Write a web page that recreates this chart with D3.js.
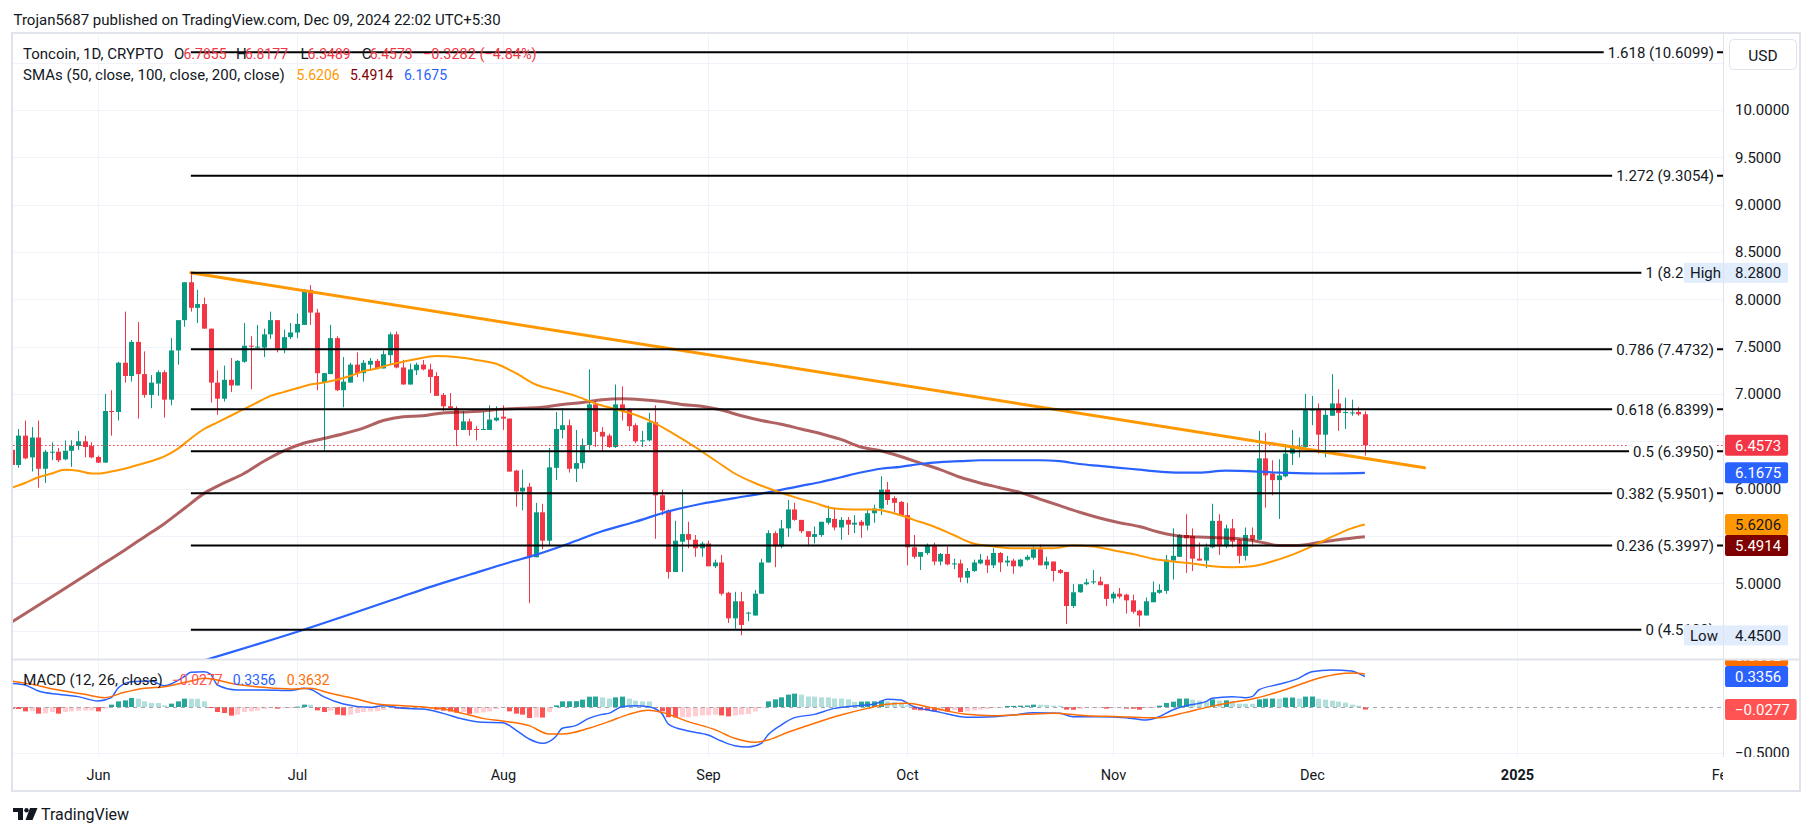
<!DOCTYPE html>
<html><head><meta charset="utf-8"><title>Toncoin 1D</title>
<script src="https://cdn.jsdelivr.net/npm/d3@7/dist/d3.min.js"></script>
<style>html,body{margin:0;padding:0;background:#fff;overflow:hidden}svg{display:block}text{font-family:Roboto,"Noto Sans",sans-serif}</style>
</head><body><svg id="chart" width="1814" height="836"></svg>
<script>
// ---------------- DATA ----------------
const candleStart = "2024-05-19";
const opens = [
6.41,6.25,6.56,6.33,6.54,6.21,6.38,6.39,6.31,6.40,6.45,6.50,6.45,
6.335,6.275,6.82,6.81,7.33,7.19,7.55,7.21,6.99,7.11,7.23,6.94,7.46,7.78,8.18,7.91,7.95,7.69,7.12,6.95,7.15,7.09,7.34,7.51,7.49,7.49,7.63,7.78,7.48,7.60,
7.65,7.73,8.10,7.86,7.12,7.21,7.59,7.04,7.12,7.31,7.22,7.31,7.35,7.27,7.41,7.63,7.28,7.10,7.25,7.31,7.26,7.19,6.99,6.87,6.85,6.62,6.71,6.63,6.62,6.62,6.72,
6.76,6.74,6.19,5.97,6.02,5.275,5.75,5.45,6.22,6.62,6.67,6.21,6.27,6.46,6.89,6.60,6.56,6.44,6.89,6.83,6.67,6.50,6.51,6.70,5.93,5.77,5.12,5.44,5.52,5.46,5.37,
5.42,5.18,5.22,4.90,4.63,4.81,4.68,4.66,4.89,5.22,5.53,5.39,5.58,5.78,5.67,5.55,5.49,5.51,5.64,5.68,5.59,5.67,5.62,5.65,5.61,5.74,5.79,5.99,5.90,5.86,
5.72,5.38,5.28,5.32,5.405,5.23,5.31,5.20,5.21,5.06,5.13,5.21,5.25,5.19,5.32,5.22,5.24,5.18,5.25,5.27,5.36,5.19,5.23,5.14,5.12,4.76,4.905,4.99,5.01,5.02,4.99,
4.84,4.89,4.88,4.82,4.71,4.66,4.80,4.90,4.92,5.24,5.28,5.51,5.50,5.26,5.24,5.38,5.66,5.39,5.58,5.46,5.29,5.51,5.46,6.32,6.16,6.09,6.13,6.37,6.44,6.44,
6.83,6.84,6.57,6.77,6.90,6.80,6.80,6.81,6.7855];
const highs = [
6.58,6.63,6.72,6.65,6.72,6.41,6.49,6.43,6.51,6.51,6.61,6.56,6.49,
6.35,7.00,7.04,7.34,7.87,7.57,7.76,7.45,7.20,7.25,7.25,7.59,7.78,8.18,8.28,8.10,8.02,7.69,7.25,7.30,7.38,7.36,7.75,7.61,7.73,7.69,7.87,7.78,7.68,7.75,
7.85,8.11,8.15,7.90,7.22,7.73,7.61,7.39,7.33,7.44,7.36,7.38,7.37,7.46,7.65,7.66,7.36,7.32,7.33,7.36,7.32,7.23,7.01,7.01,6.87,6.82,6.74,6.66,6.81,6.88,6.87,
6.88,6.74,6.20,6.20,6.06,5.85,5.84,6.43,6.81,6.85,6.73,6.62,6.53,7.26,6.92,6.65,6.58,7.10,7.08,6.85,6.69,6.61,6.80,6.88,5.99,5.78,5.66,5.99,5.65,5.51,5.44,
5.45,5.25,5.30,4.91,4.91,4.91,4.70,4.93,5.26,5.56,5.55,5.67,5.88,5.85,5.67,5.55,5.60,5.65,5.82,5.80,5.70,5.70,5.72,5.67,5.78,5.83,6.13,6.07,5.92,5.87,
5.85,5.51,5.33,5.42,5.43,5.32,5.39,5.26,5.25,5.16,5.25,5.31,5.29,5.37,5.33,5.29,5.26,5.26,5.30,5.39,5.41,5.28,5.23,5.15,5.12,4.99,4.99,5.05,5.14,5.07,4.99,
4.91,4.95,4.89,4.88,4.72,4.85,5.02,4.99,5.30,5.58,5.52,5.73,5.58,5.43,5.42,5.84,5.73,5.62,5.68,5.47,5.59,5.59,6.61,6.59,6.30,6.31,6.47,6.62,6.54,7.00,
6.98,6.90,6.83,7.21,7.05,6.96,6.94,6.86,6.8177];
const lows = [
6.23,6.22,6.31,6.18,6.01,6.06,6.30,6.28,6.30,6.23,6.41,6.33,6.32,
6.27,6.27,6.56,6.72,7.12,7.13,6.74,6.96,6.85,6.98,6.75,6.88,7.31,7.71,7.87,7.75,7.69,6.91,6.78,6.92,7.02,7.09,7.33,7.05,7.48,7.39,7.58,7.44,7.43,7.58,
7.59,7.73,7.73,7.04,6.40,7.21,7.03,6.86,7.12,7.18,7.13,7.25,7.26,7.27,7.32,7.27,7.10,7.10,7.20,7.25,7.01,6.98,6.82,6.83,6.45,6.62,6.56,6.51,6.62,6.62,6.71,
6.62,6.18,5.81,5.77,4.79,5.275,5.36,5.40,6.09,6.53,6.17,6.07,6.21,6.41,6.44,6.39,6.43,6.43,6.72,6.61,6.48,6.44,6.50,5.47,5.72,5.05,5.12,5.12,5.37,5.28,5.28,
5.18,5.16,4.87,4.58,4.52,4.45,4.60,4.66,4.89,5.22,5.17,5.37,5.49,5.66,5.53,5.39,5.42,5.49,5.62,5.56,5.46,5.51,5.53,5.48,5.56,5.64,5.72,5.83,5.75,5.71,
5.19,5.26,5.14,5.30,5.19,5.19,5.19,5.15,5.01,5.00,5.12,5.20,5.11,5.16,5.12,5.18,5.10,5.17,5.24,5.25,5.19,5.15,5.02,5.10,4.57,4.74,4.90,4.98,4.99,4.98,4.76,
4.79,4.84,4.68,4.68,4.54,4.66,4.80,4.89,4.89,5.04,5.28,5.11,5.13,5.24,5.16,5.37,5.30,5.37,5.38,5.21,5.24,5.39,5.46,5.80,5.93,5.68,6.12,6.25,6.33,6.43,
6.67,6.37,6.33,6.77,6.61,6.63,6.77,6.77,6.3489];
const closes = [
6.25,6.56,6.32,6.54,6.21,6.39,6.39,6.30,6.40,6.45,6.50,6.44,6.33,
6.275,6.82,6.81,7.33,7.19,7.55,7.21,6.99,7.12,7.23,6.94,7.46,7.78,8.18,7.91,7.95,7.69,7.12,6.95,7.15,7.09,7.35,7.51,7.50,7.50,7.63,7.78,7.48,7.60,7.65,
7.74,8.10,7.86,7.22,7.22,7.59,7.04,7.13,7.31,7.22,7.33,7.35,7.27,7.42,7.63,7.28,7.10,7.26,7.31,7.26,7.18,6.98,6.87,6.85,6.62,6.71,6.62,6.62,6.63,6.73,6.75,
6.74,6.18,5.97,6.01,5.275,5.75,5.45,6.225,6.63,6.67,6.21,6.27,6.46,6.89,6.60,6.55,6.44,6.89,6.82,6.66,6.50,6.51,6.70,5.93,5.77,5.12,5.45,5.52,5.46,5.37,5.42,
5.18,5.22,4.89,4.63,4.81,4.56,4.69,4.89,5.22,5.53,5.39,5.58,5.78,5.67,5.55,5.49,5.52,5.65,5.69,5.59,5.67,5.62,5.64,5.61,5.74,5.79,5.99,5.88,5.85,5.72,
5.38,5.28,5.33,5.405,5.23,5.31,5.20,5.21,5.06,5.13,5.22,5.25,5.19,5.32,5.22,5.24,5.18,5.25,5.28,5.36,5.19,5.23,5.13,5.11,4.76,4.905,4.99,5.01,5.02,4.98,4.835,
4.89,4.86,4.82,4.70,4.66,4.81,4.905,4.93,5.25,5.29,5.51,5.475,5.26,5.24,5.38,5.66,5.39,5.58,5.44,5.29,5.51,5.46,6.32,6.14,6.09,6.14,6.37,6.44,6.445,6.83,
6.835,6.57,6.78,6.90,6.80,6.81,6.805,6.7855,6.4573];
const macdHist = [
-0.020,-0.022,-0.048,-0.046,-0.073,-0.070,-0.055,-0.073,-0.055,-0.048,-0.041,-0.039,-0.037,
-0.048,-0.018,0.026,0.062,0.073,0.099,0.092,0.062,0.045,0.044,0.018,0.037,0.062,0.092,0.091,0.090,0.062,-0.007,-0.055,-0.066,-0.095,-0.084,-0.055,-0.048,-0.040,-0.022,-0.007,-0.018,-0.011,-0.004,
0.004,0.026,0.025,-0.037,-0.055,-0.040,-0.084,-0.092,-0.084,-0.066,-0.055,-0.049,-0.047,-0.033,-0.004,-0.018,-0.022,-0.018,-0.012,-0.011,-0.013,-0.030,-0.040,-0.050,-0.062,-0.055,-0.075,-0.068,-0.059,-0.048,-0.022,
-0.011,-0.048,-0.073,-0.084,-0.121,-0.114,-0.116,-0.055,0.018,0.062,0.063,0.064,0.081,0.113,0.115,0.106,0.092,0.106,0.114,0.092,0.070,0.062,0.061,-0.011,-0.048,-0.112,-0.115,-0.114,-0.113,-0.103,-0.092,
-0.091,-0.084,-0.092,-0.103,-0.092,-0.084,-0.077,-0.048,-0.004,0.062,0.084,0.106,0.136,0.147,0.136,0.115,0.114,0.106,0.105,0.093,0.092,0.084,0.057,0.059,0.060,0.062,0.070,0.062,0.055,0.040,
0.018,-0.029,-0.037,-0.040,-0.048,-0.046,-0.049,-0.033,-0.055,-0.048,-0.037,-0.029,-0.022,-0.007,-0.003,0.011,0.012,0.015,0.016,0.026,0.025,0.024,0.015,0.014,-0.029,-0.030,-0.022,-0.011,-0.010,-0.009,-0.018,
-0.011,-0.010,-0.018,-0.019,-0.029,-0.011,-0.004,0.015,0.044,0.059,0.092,0.093,0.081,0.070,0.062,0.084,0.070,0.073,0.062,0.037,0.036,0.035,0.084,0.092,0.093,0.092,0.103,0.104,0.092,0.114,
0.115,0.092,0.081,0.070,0.059,0.048,0.026,0.015,-0.0277];

const macdDates = ["2024-05-19","2024-05-21","2024-05-23","2024-05-26","2024-05-29","2024-06-01","2024-06-03","2024-06-04","2024-06-06","2024-06-09","2024-06-11","2024-06-14","2024-06-15","2024-06-17","2024-06-18","2024-06-19","2024-06-22","2024-06-26","2024-06-30","2024-07-02","2024-07-03","2024-07-05","2024-07-08","2024-07-12","2024-07-14","2024-07-17","2024-07-20","2024-07-23","2024-07-26","2024-07-29","2024-08-01","2024-08-03","2024-08-05","2024-08-07","2024-08-09","2024-08-10","2024-08-12","2024-08-14","2024-08-16","2024-08-17","2024-08-19","2024-08-21","2024-08-23","2024-08-25","2024-08-26","2024-08-29","2024-09-01","2024-09-03","2024-09-05","2024-09-07","2024-09-09","2024-09-10","2024-09-12","2024-09-14","2024-09-17","2024-09-20","2024-09-23","2024-09-26","2024-09-28","2024-09-30","2024-10-02","2024-10-03","2024-10-06","2024-10-10","2024-10-14","2024-10-17","2024-10-20","2024-10-24","2024-10-26","2024-10-30","2024-11-03","2024-11-06","2024-11-08","2024-11-10","2024-11-12","2024-11-15","2024-11-16","2024-11-19","2024-11-21","2024-11-22","2024-11-23","2024-11-26","2024-11-29","2024-12-01","2024-12-04","2024-12-07","2024-12-08","2024-12-09"];
const macdValues = [0.260,0.242,0.176,0.139,0.114,0.066,0.103,0.205,0.278,0.286,0.234,0.333,0.381,0.388,0.359,0.242,0.187,0.187,0.180,0.205,0.194,0.114,0.033,-0.004,0.015,-0.015,-0.022,-0.070,-0.132,-0.168,-0.172,-0.253,-0.352,-0.399,-0.326,-0.234,-0.205,-0.125,-0.081,-0.070,0.004,0.015,0.004,-0.070,-0.187,-0.264,-0.308,-0.374,-0.425,-0.440,-0.399,-0.308,-0.198,-0.117,-0.081,-0.015,0.011,0.029,0.084,0.077,0.004,-0.015,-0.059,-0.113,-0.106,-0.088,-0.062,-0.070,-0.106,-0.106,-0.117,-0.143,-0.106,-0.033,0.015,0.059,0.095,0.114,0.103,0.114,0.187,0.249,0.315,0.388,0.407,0.396,0.370,0.3356];
const signalDates = ["2024-05-19","2024-05-22","2024-05-26","2024-05-30","2024-06-02","2024-06-05","2024-06-08","2024-06-11","2024-06-15","2024-06-17","2024-06-19","2024-06-21","2024-06-26","2024-06-30","2024-07-03","2024-07-06","2024-07-10","2024-07-13","2024-07-17","2024-07-21","2024-07-24","2024-07-26","2024-07-29","2024-08-01","2024-08-05","2024-08-08","2024-08-10","2024-08-14","2024-08-17","2024-08-20","2024-08-23","2024-08-25","2024-08-29","2024-09-02","2024-09-05","2024-09-08","2024-09-10","2024-09-13","2024-09-17","2024-09-21","2024-09-25","2024-09-28","2024-10-01","2024-10-04","2024-10-07","2024-10-10","2024-10-14","2024-10-19","2024-10-23","2024-10-28","2024-11-02","2024-11-06","2024-11-08","2024-11-12","2024-11-15","2024-11-19","2024-11-22","2024-11-26","2024-11-29","2024-12-02","2024-12-05","2024-12-07","2024-12-09"];
const signalValues = [0.286,0.249,0.187,0.139,0.103,0.161,0.205,0.223,0.286,0.315,0.297,0.260,0.216,0.198,0.205,0.150,0.088,0.033,0.015,-0.007,-0.033,-0.070,-0.125,-0.154,-0.205,-0.297,-0.297,-0.234,-0.161,-0.081,-0.037,-0.059,-0.161,-0.249,-0.344,-0.388,-0.363,-0.278,-0.179,-0.088,-0.015,0.029,0.040,0.004,-0.044,-0.081,-0.095,-0.081,-0.070,-0.095,-0.106,-0.117,-0.117,-0.059,-0.007,0.051,0.088,0.168,0.242,0.315,0.363,0.374,0.3632];

const sma50Dates = ["2024-05-19","2024-05-21","2024-05-23","2024-05-25","2024-05-27","2024-05-29","2024-05-31","2024-06-01","2024-06-03","2024-06-05","2024-06-07","2024-06-09","2024-06-11","2024-06-13","2024-06-15","2024-06-17","2024-06-19","2024-06-21","2024-06-23","2024-06-25","2024-06-27","2024-06-29","2024-07-01","2024-07-03","2024-07-05","2024-07-07","2024-07-09","2024-07-11","2024-07-13","2024-07-15","2024-07-17","2024-07-19","2024-07-22","2024-07-25","2024-07-28","2024-07-31","2024-08-03","2024-08-06","2024-08-09","2024-08-12","2024-08-15","2024-08-18","2024-08-21","2024-08-24","2024-08-27","2024-08-30","2024-09-02","2024-09-05","2024-09-08","2024-09-11","2024-09-14","2024-09-17","2024-09-20","2024-09-23","2024-09-26","2024-09-29","2024-10-02","2024-10-05","2024-10-08","2024-10-11","2024-10-14","2024-10-17","2024-10-20","2024-10-23","2024-10-26","2024-10-29","2024-11-01","2024-11-04","2024-11-07","2024-11-10","2024-11-13","2024-11-16","2024-11-19","2024-11-22","2024-11-25","2024-11-28","2024-12-01","2024-12-04","2024-12-07","2024-12-09"];
const sma50Values = [6.01,6.06,6.12,6.16,6.20,6.19,6.16,6.16,6.18,6.21,6.25,6.29,6.34,6.42,6.53,6.63,6.70,6.77,6.84,6.91,6.98,7.02,7.06,7.10,7.12,7.15,7.19,7.24,7.27,7.31,7.34,7.37,7.40,7.39,7.36,7.32,7.22,7.10,7.04,6.98,6.90,6.84,6.78,6.69,6.57,6.44,6.30,6.16,6.06,5.98,5.91,5.85,5.79,5.78,5.78,5.74,5.67,5.60,5.51,5.42,5.39,5.37,5.37,5.37,5.40,5.39,5.35,5.31,5.26,5.23,5.21,5.18,5.17,5.18,5.23,5.30,5.39,5.49,5.58,5.6206];
const sma100Dates = ["2024-05-19","2024-05-26","2024-06-01","2024-06-05","2024-06-08","2024-06-11","2024-06-14","2024-06-17","2024-06-20","2024-06-23","2024-06-26","2024-06-29","2024-07-02","2024-07-05","2024-07-08","2024-07-11","2024-07-14","2024-07-17","2024-07-20","2024-07-23","2024-07-26","2024-07-29","2024-08-01","2024-08-04","2024-08-07","2024-08-10","2024-08-13","2024-08-16","2024-08-19","2024-08-22","2024-08-25","2024-08-28","2024-08-31","2024-09-03","2024-09-06","2024-09-09","2024-09-12","2024-09-15","2024-09-18","2024-09-21","2024-09-24","2024-09-27","2024-09-30","2024-10-03","2024-10-06","2024-10-09","2024-10-12","2024-10-15","2024-10-18","2024-10-21","2024-10-24","2024-10-27","2024-10-30","2024-11-02","2024-11-05","2024-11-08","2024-11-11","2024-11-14","2024-11-17","2024-11-20","2024-11-23","2024-11-26","2024-11-29","2024-12-02","2024-12-05","2024-12-09"];
const sma100Values = [4.59,4.90,5.17,5.35,5.49,5.63,5.79,5.95,6.06,6.16,6.29,6.40,6.48,6.53,6.58,6.64,6.72,6.76,6.77,6.80,6.81,6.82,6.84,6.85,6.86,6.89,6.91,6.94,6.95,6.94,6.92,6.89,6.87,6.83,6.77,6.72,6.68,6.63,6.58,6.52,6.44,6.40,6.34,6.27,6.20,6.12,6.06,6.01,5.96,5.89,5.82,5.75,5.69,5.64,5.60,5.54,5.50,5.49,5.48,5.47,5.44,5.40,5.40,5.43,5.46,5.4914];
const sma200Dates = ["2024-06-11","2024-06-21","2024-07-02","2024-07-16","2024-07-21","2024-07-27","2024-08-02","2024-08-06","2024-08-11","2024-08-16","2024-08-21","2024-08-26","2024-08-31","2024-09-05","2024-09-10","2024-09-15","2024-09-18","2024-09-21","2024-09-24","2024-09-27","2024-09-30","2024-10-03","2024-10-06","2024-10-09","2024-10-12","2024-10-15","2024-10-18","2024-10-21","2024-10-24","2024-10-27","2024-10-30","2024-11-02","2024-11-05","2024-11-08","2024-11-11","2024-11-14","2024-11-18","2024-11-26","2024-12-02","2024-12-09"];
const sma200Values = [4.06,4.27,4.51,4.84,4.96,5.09,5.22,5.30,5.42,5.55,5.65,5.76,5.84,5.90,5.96,6.03,6.07,6.12,6.17,6.21,6.23,6.26,6.28,6.29,6.30,6.30,6.30,6.30,6.29,6.26,6.24,6.22,6.20,6.18,6.17,6.17,6.19,6.17,6.16,6.1675];

const trendDates = ["2024-06-15","2024-12-18"];
const trendValues = [8.28, 6.22];
const fibStart = "2024-06-15";
const fibRatios = [1.618, 1.272, 1, 0.786, 0.618, 0.5, 0.382, 0.236, 0];
const fibPrices = [10.6099, 9.3054, 8.2800, 7.4732, 6.8399, 6.3950, 5.9501, 5.3997, 4.5100];
const rangeHigh = 8.28, rangeLow = 4.45;
const priceTicks = [10.5,10,9.5,9,8.5,8,7.5,7,6.5,6,5.5,5,4.5];
const macdTicks = [-0.5];
const monthTicks = ["2024-06-01","2024-07-01","2024-08-01","2024-09-01","2024-10-01","2024-11-01","2024-12-01","2025-01-01","2025-02-01"];
const lastClose = 6.4573, lastSma50 = 5.6206, lastSma100 = 5.4914, lastSma200 = 6.1675;
const lastHist = -0.0277, lastMacd = 0.3356, lastSignal = 0.3632;
const legendOHLC = ["6.7855","6.8177","6.3489","6.4573"];
const legendChange = "−0.3282 (−4.84%)";

// ---------------- LAYOUT ----------------
const svg = d3.select("#chart");
const C = {up:"#089981", dn:"#f23645", grid:"#f0f3fa", border:"#e0e3eb", text:"#131722",
  s50:"#ff9800", s100:"#800000", s200:"#2962ff", macd:"#2962ff", sig:"#ff6d00"};
const L = 13, R = 1723, MT = 34, MB = 659, ST = 660, SB = 757, AR = 1800;
const P = d3.utcParse("%Y-%m-%d");
const x = d3.scaleUtc().domain([P("2024-06-01"), P("2024-12-01")]).range([98, 1311.8]);
const y = d3.scaleLinear().domain([5, 10]).range([583.3, 110]);
const ym = d3.scaleLinear().domain([-0.5, 0]).range([752.5, 707]);
const dates = d3.utcDay.range(P(candleStart), d3.utcDay.offset(P(candleStart), closes.length));
const px = d => Math.round(x(d));
const hiY = y(rangeHigh), loY = y(rangeLow);

svg.append("rect").attr("width",1814).attr("height",836).attr("fill","#fff");
const defs = svg.append("defs");
function clip(id, x0, y0, w, h){ defs.append("clipPath").attr("id",id).append("rect").attr("x",x0).attr("y",y0).attr("width",w).attr("height",h); }
clip("cm", L, MT, R-L, MB-MT);
clip("cs", L, ST, R-L, SB-ST);
clip("cam", R, MT, AR-R, MB-MT);
clip("cas", R, ST, AR-R, SB-ST);
clip("ct", L, SB, R-L, 34);
// clip for fib labels hidden behind the High / Low tags
[["chi", hiY], ["clo", loY]].forEach(([id, yy]) => {
  const cp = defs.append("clipPath").attr("id", id);
  cp.append("rect").attr("x", L).attr("y", MT).attr("width", 1684 - L).attr("height", MB - MT);
  cp.append("rect").attr("x", L).attr("y", MT).attr("width", R - L).attr("height", yy - 10 - MT);
  cp.append("rect").attr("x", L).attr("y", yy + 10).attr("width", R - L).attr("height", MB - yy - 10);
});

// grid
const months = monthTicks.map(P);
const gMain = svg.append("g").attr("clip-path","url(#cm)");
const gSub = svg.append("g").attr("clip-path","url(#cs)");
[ [gMain, MT, MB], [gSub, ST, SB] ].forEach(([g, t, b]) => {
  g.append("g").selectAll("line").data(months).join("line")
    .attr("x1", d => px(d)+0.5).attr("x2", d => px(d)+0.5).attr("y1", t).attr("y2", b)
    .attr("stroke", C.grid).attr("stroke-width", 1);
});
gMain.append("g").selectAll("line").data(priceTicks).join("line")
  .attr("x1", L).attr("x2", R).attr("y1", d => Math.round(y(d))+0.5).attr("y2", d => Math.round(y(d))+0.5)
  .attr("stroke", C.grid);
gSub.append("g").selectAll("line").data(macdTicks).join("line")
  .attr("x1", L).attr("x2", R).attr("y1", d => Math.round(ym(d))+0.5).attr("y2", d => Math.round(ym(d))+0.5)
  .attr("stroke", C.grid);

// candles
const cdata = dates.map((d,i) => ({d, o:opens[i], h:highs[i], l:lows[i], c:closes[i]}));
const cg = gMain.append("g").selectAll("g").data(cdata).join("g");
cg.append("line")
  .attr("x1", d => px(d.d)+0.5).attr("x2", d => px(d.d)+0.5)
  .attr("y1", d => y(d.h)).attr("y2", d => y(d.l))
  .attr("stroke", d => d.c >= d.o ? C.up : C.dn).attr("stroke-width", 1);
cg.append("rect")
  .attr("x", d => px(d.d)-2).attr("width", 5)
  .attr("y", d => y(Math.max(d.o, d.c)))
  .attr("height", d => Math.max(1, Math.abs(y(d.o) - y(d.c))))
  .attr("fill", d => d.c >= d.o ? C.up : C.dn);

// moving averages
const zip = (ds, vs) => ds.map((d,i) => [P(d), vs[i]]);
const lineMain = d3.line().x(d => x(d[0])).y(d => y(d[1])).curve(d3.curveMonotoneX);
gMain.append("path").attr("d", lineMain(zip(sma100Dates, sma100Values))).attr("fill","none")
  .attr("stroke", C.s100).attr("stroke-opacity", 0.62).attr("stroke-width", 3);
gMain.append("path").attr("d", lineMain(zip(sma200Dates, sma200Values))).attr("fill","none")
  .attr("stroke", C.s200).attr("stroke-width", 2.2);
gMain.append("path").attr("d", lineMain(zip(sma50Dates, sma50Values))).attr("fill","none")
  .attr("stroke", C.s50).attr("stroke-width", 2);

// current price dotted line
gMain.append("line").attr("x1", L).attr("x2", R)
  .attr("y1", Math.round(y(lastClose))+0.5).attr("y2", Math.round(y(lastClose))+0.5)
  .attr("stroke", C.dn).attr("stroke-dasharray","1.5 2.5").attr("stroke-width",1);

// trend line
gMain.append("path").attr("d", d3.line().x(d => x(d[0])).y(d => y(d[1]))(zip(trendDates, trendValues)))
  .attr("stroke", C.s50).attr("stroke-width", 3).attr("stroke-linecap","round").attr("fill","none");

// fib levels
const fx0 = x(P(fibStart));
const fibG = gMain.append("g");
fibRatios.forEach((r, i) => {
  const yy = y(fibPrices[i]);
  fibG.append("line").attr("x1", fx0).attr("x2", R).attr("y1", yy).attr("y2", yy)
    .attr("stroke", "#000").attr("stroke-width", 2);
  const lg = fibG.append("g");
  if (Math.abs(yy - hiY) < 20) lg.attr("clip-path", "url(#chi)");
  if (Math.abs(yy - loY) < 20) lg.attr("clip-path", "url(#clo)");
  const bg = lg.append("rect").attr("fill","#fff");
  const t = lg.append("text").attr("x", 1714).attr("y", yy).attr("dy","0.36em")
    .attr("text-anchor","end").attr("font-size",15).attr("fill", C.text)
    .text(`${r} (${fibPrices[i].toFixed(4)})`);
  const bb = t.node().getBBox();
  bg.attr("x", bb.x-4).attr("y", yy-9).attr("width", bb.width+7).attr("height", 18);
});

// MACD histogram
const hist = macdHist.map((v,i) => ({d: dates[i], v, p: i ? macdHist[i-1] : v}));
const hColor = h => h.v >= 0 ? (h.v > h.p ? "#26a69a" : "#b2dfdb") : (h.v > h.p ? "#ffcdd2" : "#ff5252");
gSub.append("g").selectAll("rect").data(hist).join("rect")
  .attr("x", d => px(d.d)-2).attr("width", 5)
  .attr("y", d => Math.min(ym(0), ym(d.v))).attr("height", d => Math.max(1, Math.abs(ym(d.v)-ym(0))))
  .attr("fill", hColor);
gSub.append("line").attr("x1", L).attr("x2", R).attr("y1", Math.round(ym(0))+0.5).attr("y2", Math.round(ym(0))+0.5)
  .attr("stroke","#a3a6af").attr("stroke-dasharray","4 4").attr("stroke-width",1);
const lineSub = d3.line().x(d => x(d[0])).y(d => ym(d[1])).curve(d3.curveMonotoneX);
gSub.append("path").attr("d", lineSub(zip(macdDates, macdValues))).attr("fill","none").attr("stroke", C.macd).attr("stroke-width",1.5);
gSub.append("path").attr("d", lineSub(zip(signalDates, signalValues))).attr("fill","none").attr("stroke", C.sig).attr("stroke-width",1.5);

// ---------------- AXES ----------------
const fmt = d3.format(".4f");
const mainBoxes = [
  {v:lastClose, bg:C.dn, fg:"#fff"},
  {v:lastSma200, bg:C.s200, fg:"#fff"},
  {v:lastSma50, bg:C.s50, fg:C.text},
  {v:lastSma100, bg:"#7f0000", fg:"#fff"}
].map(b => ({...b, y: y(b.v)})).sort((a,b) => a.y - b.y);
const BH = 21;
for (let i = 1; i < mainBoxes.length; i++) if (mainBoxes[i].y < mainBoxes[i-1].y + BH) mainBoxes[i].y = mainBoxes[i-1].y + BH;
const subBoxes = [
  {v:lastSignal, bg:C.sig, fg:"#fff"},
  {v:lastMacd, bg:C.macd, fg:"#fff"},
  {v:lastHist, bg:"#ff5252", fg:"#fff"}
].map(b => ({...b, y: ym(b.v)})).sort((a,b) => b.y - a.y);
for (let i = 1; i < subBoxes.length; i++) if (subBoxes[i].y > subBoxes[i-1].y - BH) subBoxes[i].y = subBoxes[i-1].y - BH;

const occupied = mainBoxes.map(b => b.y).concat([hiY, loY, 55]);
const axM = svg.append("g").attr("clip-path","url(#cam)");
axM.selectAll("text").data(priceTicks.filter(t => occupied.every(o => Math.abs(y(t) - o) > 14))).join("text")
  .attr("x", 1735).attr("y", d => y(d)).attr("dy","0.36em").attr("font-size",15).attr("fill", C.text).text(fmt);
const axS = svg.append("g").attr("clip-path","url(#cas)");
axS.selectAll("text").data(macdTicks).join("text")
  .attr("x", 1735).attr("y", d => ym(d)).attr("dy","0.36em").attr("font-size",15).attr("fill", C.text).text(fmt);

function valueBox(g, b){
  const t = g.append("text").attr("x", 1735).attr("y", b.y).attr("dy","0.36em").attr("font-size",15)
    .attr("fill", b.fg).text(fmt(b.v));
  const w = t.node().getComputedTextLength();
  g.insert("rect", () => t.node()).attr("x", 1725).attr("y", b.y - BH/2).attr("width", w + 17).attr("height", BH)
    .attr("rx", 2).attr("fill", b.bg);
}
mainBoxes.forEach(b => valueBox(axM, b));
subBoxes.forEach(b => valueBox(axS, b));

// High / Low tags
[[hiY, "High", fmt(rangeHigh)], [loY, "Low", fmt(rangeLow)]].forEach(([yy, lab, val]) => {
  svg.append("rect").attr("x", 1684).attr("y", yy - 10).attr("width", 104).attr("height", 20).attr("fill", "#e1ecfc");
  svg.append("text").attr("x", 1690).attr("y", yy).attr("dy","0.36em").attr("font-size",15).attr("fill",C.text).text(lab);
  svg.append("text").attr("x", 1735).attr("y", yy).attr("dy","0.36em").attr("font-size",15).attr("fill",C.text).text(val);
});

// time axis
const axT = svg.append("g").attr("clip-path","url(#ct)");
axT.selectAll("text").data(months).join("text")
  .attr("x", d => px(d)+0.5).attr("y", 775).attr("dy","0.36em").attr("text-anchor","middle")
  .attr("font-size",14.5).attr("fill",C.text)
  .attr("font-weight", d => d.getUTCMonth() === 0 ? 700 : 400)
  .text(d => d.getUTCMonth() === 0 ? d3.utcFormat("%Y")(d) : d3.utcFormat("%b")(d));

// borders
svg.append("line").attr("x1", R+0.5).attr("x2", R+0.5).attr("y1", MT).attr("y2", SB).attr("stroke", C.border);
svg.append("line").attr("x1", 12).attr("x2", AR).attr("y1", 659.5).attr("y2", 659.5).attr("stroke", C.border).attr("stroke-width",2);
svg.append("rect").attr("x", 12).attr("y", 33).attr("width", AR-12).attr("height", 758)
  .attr("fill","none").attr("stroke", C.border).attr("stroke-width", 2);

// USD box
svg.append("rect").attr("x",1729.5).attr("y",39.5).attr("width",67).attr("height",30).attr("rx",4)
  .attr("fill","#fff").attr("stroke",C.border);
svg.append("text").attr("x",1763).attr("y",55).attr("dy","0.36em").attr("text-anchor","middle")
  .attr("font-size",15.5).attr("fill",C.text).text("USD");

// ---------------- TEXT ----------------
svg.append("text").attr("x",13.5).attr("y",20).attr("dy","0.36em").attr("font-size",15).attr("fill",C.text)
  .text("Trojan5687 published on TradingView.com, Dec 09, 2024 22:02 UTC+5:30");

const lg1 = svg.append("text").attr("y",53.5).attr("dy","0.36em").attr("font-size",14).attr("fill",C.text);
lg1.append("tspan").attr("x",23).attr("font-size",15).text("Toncoin, 1D, CRYPTO");
const ohlcX = [[174,183.5],[236,245],[300.5,307.6],[361.8,369.7]];
["O","H","L","C"].forEach((k,i) => {
  lg1.append("tspan").attr("x", ohlcX[i][0]).attr("font-size",15).text(k);
  lg1.append("tspan").attr("x", ohlcX[i][1]).attr("fill", C.dn).text(legendOHLC[i]);
});
lg1.append("tspan").attr("x",423).attr("fill",C.dn).attr("font-size",14.5).text(legendChange);

const lg2 = svg.append("text").attr("y",75).attr("dy","0.36em").attr("font-size",14).attr("fill",C.text);
lg2.append("tspan").attr("x",23).attr("font-size",15).text("SMAs (50, close, 100, close, 200, close)");
lg2.append("tspan").attr("x",296.6).attr("fill",C.s50).text(fmt(lastSma50));
lg2.append("tspan").attr("x",350).attr("fill","#800000").text(fmt(lastSma100));
lg2.append("tspan").attr("x",404).attr("fill",C.s200).text(fmt(lastSma200));

const lg3 = svg.append("text").attr("y",680).attr("dy","0.36em").attr("font-size",14).attr("fill",C.text);
lg3.append("tspan").attr("x",23.3).attr("font-size",15).text("MACD (12, 26, close)");
lg3.append("tspan").attr("x",171.7).attr("fill","#ff5252").text(fmt(lastHist));
lg3.append("tspan").attr("x",232.7).attr("fill",C.macd).text(fmt(lastMacd));
lg3.append("tspan").attr("x",286.7).attr("fill",C.sig).text(fmt(lastSignal));

// footer logo
const lo = svg.append("g").attr("fill", C.text);
lo.append("path").attr("d","M13 808 H23 V820 H18 V812 H13 Z");
lo.append("circle").attr("cx",26.5).attr("cy",810.2).attr("r",2.2);
lo.append("path").attr("d","M30 808 H37.5 L32.5 820 H25.5 Z");
svg.append("text").attr("x",41).attr("y",814.5).attr("dy","0.36em").attr("font-size",16).attr("fill",C.text).text("TradingView");
</script>
</body></html>
